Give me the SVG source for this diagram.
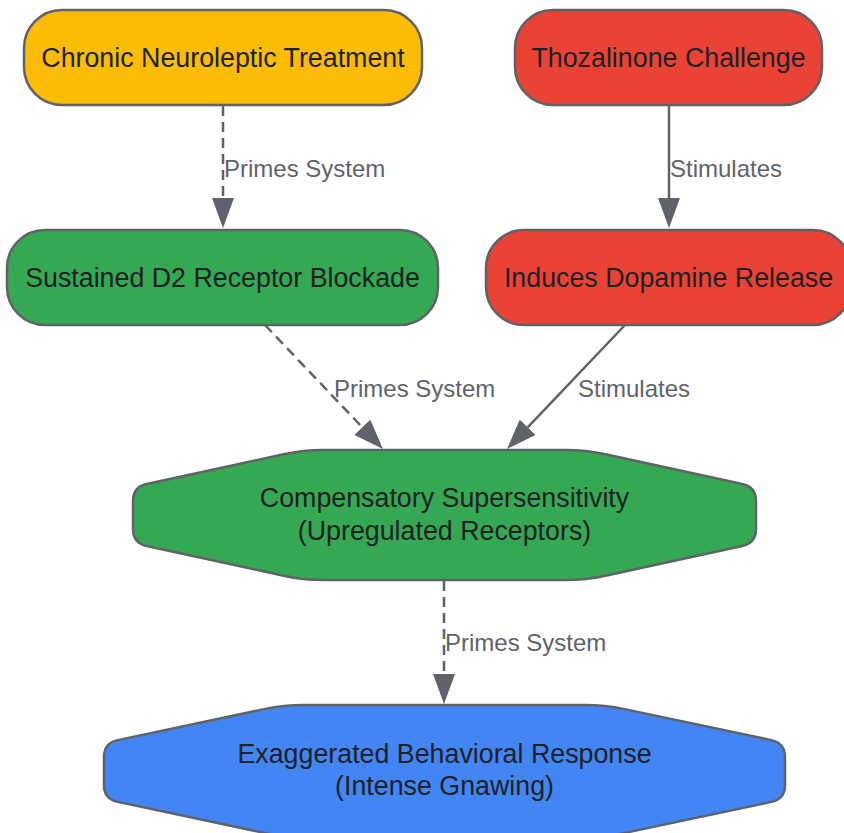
<svg xmlns="http://www.w3.org/2000/svg" width="844" height="833" viewBox="0 0 844 833">
<style>
.node{stroke:#5f6368;stroke-width:2.5}
.yellow{fill:#FBBC04}
.red{fill:#EA4335}
.green{fill:#34A853}
.blue{fill:#4285F4}
.ntext{font-family:"Liberation Sans",Arial,sans-serif;font-size:26.8px;fill:#202124;text-anchor:middle}
.edge{stroke:#5f6368;stroke-width:2.5;fill:none}
.dash{stroke-dasharray:10 6}
.elabel{font-family:"Liberation Sans",Arial,sans-serif;font-size:24px;fill:#5f6368}
</style>
<defs>
<marker id="arrow" viewBox="0 0 30 22" refX="0" refY="11" markerWidth="30" markerHeight="22" markerUnits="userSpaceOnUse" orient="auto">
<path d="M0,0 L30,11 L0,22 Z" fill="#5f6368"/>
</marker>
</defs>
<rect width="844" height="833" fill="#ffffff"/>
<g id="connectors">
<path class="edge dash" d="M223,106 L223,198" marker-end="url(#arrow)"/>
<path class="edge" d="M669,106 L669,198" marker-end="url(#arrow)"/>
<path class="edge dash" d="M265,325 L362.3,427.3" marker-end="url(#arrow)"/>
<path class="edge" d="M625,325 L527.7,427.3" marker-end="url(#arrow)"/>
<path class="edge dash" d="M444,581 L444,674" marker-end="url(#arrow)"/>
<text class="elabel" x="224" y="177">Primes System</text>
<text class="elabel" x="670" y="177">Stimulates</text>
<text class="elabel" x="334" y="397">Primes System</text>
<text class="elabel" x="578" y="397">Stimulates</text>
<text class="elabel" x="445" y="651">Primes System</text>
</g>
<g id="chronic">
<rect class="node yellow" x="24" y="10" width="398" height="95" rx="38" ry="38"/>
<text class="ntext" x="223" y="67">Chronic Neuroleptic Treatment</text>
</g>
<g id="thozalinone">
<rect class="node red" x="515" y="10" width="307" height="95" rx="38" ry="38"/>
<text class="ntext" x="668.5" y="67">Thozalinone Challenge</text>
</g>
<g id="blockade">
<rect class="node green" x="7" y="230" width="431" height="95" rx="38" ry="38"/>
<text class="ntext" x="222.5" y="287">Sustained D2 Receptor Blockade</text>
</g>
<g id="dopamine">
<rect class="node red" x="486" y="230" width="365" height="95" rx="38" ry="38"/>
<text class="ntext" x="668.5" y="287">Induces Dopamine Release</text>
</g>
<g id="supersensitivity">
<path class="node green" d="M323,450 L566,450 Q586,450 605.5,454.3 L742.3,484 Q756,487 756,501 L756,529 Q756,543 742.3,546 L605.5,575.7 Q586,580 566,580 L323,580 Q303,580 283.5,575.7 L146.7,546 Q133,543 133,529 L133,501 Q133,487 146.7,484 L283.5,454.3 Q303,450 323,450 Z"/>
<text class="ntext" x="444.5" y="507">Compensatory Supersensitivity</text>
<text class="ntext" x="444.5" y="540">(Upregulated Receptors)</text>
</g>
<g id="response">
<path class="node blue" d="M304,705 L585,705 Q605,705 624.6,709.1 L771.3,740.1 Q785,743 785,757 L785,785 Q785,799 771.3,801.9 L624.6,832.9 Q605,837 585,837 L304,837 Q284,837 264.4,832.9 L117.7,801.9 Q104,799 104,785 L104,757 Q104,743 117.7,740.1 L264.4,709.1 Q284,705 304,705 Z"/>
<text class="ntext" x="444.5" y="763">Exaggerated Behavioral Response</text>
<text class="ntext" x="444.5" y="795">(Intense Gnawing)</text>
</g>
</svg>
